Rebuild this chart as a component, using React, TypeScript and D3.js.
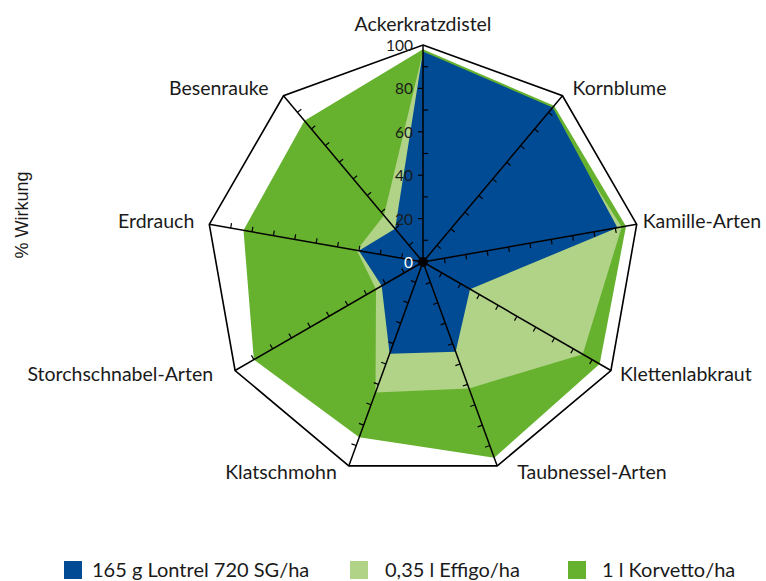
import React from "react";
import * as d3 from "d3";

const categories = [
  "Ackerkratzdistel",
  "Kornblume",
  "Kamille-Arten",
  "Klettenlabkraut",
  "Taubnessel-Arten",
  "Klatschmohn",
  "Storchschnabel-Arten",
  "Erdrauch",
  "Besenrauke",
];
const seriesNames = ["165 g Lontrel 720 SG/ha", "0,35 l Effigo/ha", "1 l Korvetto/ha"];
const lontrel = [97, 93, 91, 25, 44, 45, 22, 30, 20];
const effigo = [97, 90, 93, 85, 62, 64, 25, 31, 28];
const korvetto = [98, 94, 95, 94, 96, 86, 90, 84, 85];
const tickLabels = [0, 20, 40, 60, 80, 100];
const colors = ["#004b93", "#b0d387", "#66b22f"];

const W = 766;
const H = 581;
const cx = 423;
const cy = 262;
const R = 217;
const FONT = "Lato, 'Open Sans', sans-serif";

export default function App() {
  const r = d3.scaleLinear().domain([0, 100]).range([0, R]);
  const n = categories.length;
  const step = (2 * Math.PI) / n;
  const ang = (i: number) => i * step;
  const pt = (i: number, v: number): [number, number] => [
    cx + r(v) * Math.sin(ang(i)),
    cy - r(v) * Math.cos(ang(i)),
  ];
  const radial = d3
    .lineRadial<number>()
    .angle((_, i) => ang(i))
    .radius((d) => r(d))
    .curve(d3.curveLinearClosed);

  const series = [korvetto, effigo, lontrel];
  const seriesColors = [colors[2], colors[1], colors[0]];

  const frame = radial(categories.map(() => 100)) || "";

  // label placements (dx from vertex, absolute baseline offset)
  const labelPos: { dx: number; dy: number; anchor: string }[] = [
    { dx: 0, dy: -14, anchor: "middle" },
    { dx: 10, dy: -1, anchor: "start" },
    { dx: 6, dy: 4, anchor: "start" },
    { dx: 9, dy: 10, anchor: "start" },
    { dx: 20, dy: 13, anchor: "start" },
    { dx: -12, dy: 13, anchor: "end" },
    { dx: -22, dy: 10, anchor: "end" },
    { dx: -15, dy: 4, anchor: "end" },
    { dx: -15, dy: -1, anchor: "end" },
  ];

  const ticks: JSX.Element[] = [];
  categories.forEach((_, i) => {
    const a = ang(i);
    const tx = Math.cos(a);
    const ty = Math.sin(a);
    for (let v = 10; v < 100; v += 10) {
      const [x, y] = pt(i, v);
      const sgn = i === 0 && v % 20 === 0 ? -1 : 1;
      ticks.push(
        <line
          key={`t${i}-${v}`}
          x1={x}
          y1={y}
          x2={x + sgn * 5 * tx}
          y2={y + sgn * 5 * ty}
          stroke="#000"
          strokeWidth={1.2}
        />
      );
    }
  });

  const legendX = [64, 350, 568];
  const legendTextX = [28, 35, 34];

  return (
    <svg
      width={W}
      height={H}
      style={{ position: "absolute", left: 0, top: 0, background: "#fff" }}
      fontFamily={FONT}
    >
      <g transform={`translate(${cx},${cy})`}>
        {series.map((s, k) => (
          <path key={k} d={radial(s) || ""} fill={seriesColors[k]} stroke="none" />
        ))}
        <path d={frame} fill="none" stroke="#000" strokeWidth={1.6} />
      </g>
      {categories.map((_, i) => {
        const [x, y] = pt(i, 100);
        return <line key={`ax${i}`} x1={cx} y1={cy} x2={x} y2={y} stroke="#000" strokeWidth={1.5} />;
      })}
      {ticks}
      <circle cx={cx} cy={cy} r={5} fill="#000" />
      {tickLabels.map((v) => {
        const [x, y] = pt(0, v);
        return (
          <text
            key={`tl${v}`}
            x={x - 10}
            y={y + 2}
            textAnchor="end"
            dominantBaseline="middle"
            fontSize={15.5}
            fill={v === 0 ? "#fff" : "#1a1a1a"}
          >
            {v}
          </text>
        );
      })}
      {categories.map((c, i) => {
        const [x, y] = pt(i, 100);
        const lp = labelPos[i];
        return (
          <text
            key={`cl${i}`}
            x={x + lp.dx}
            y={y + lp.dy}
            textAnchor={lp.anchor}
            fontSize={19.5}
            fill="#1a1a1a"
          >
            {c}
          </text>
        );
      })}
      <text
        transform="translate(28,215) rotate(-90)"
        textAnchor="middle"
        fontSize={18}
        fontFamily="'Liberation Sans', Arial, sans-serif"
        fill="#1a1a1a"
      >
        % Wirkung
      </text>
      {seriesNames.map((s, k) => (
        <g key={`lg${k}`} transform={`translate(${legendX[k]},561)`}>
          <rect x={0} y={0} width={18} height={18} fill={colors[k]} />
          <text x={legendTextX[k]} y={16} fontSize={20} fill="#1a1a1a">
            {s}
          </text>
        </g>
      ))}
    </svg>
  );
}
